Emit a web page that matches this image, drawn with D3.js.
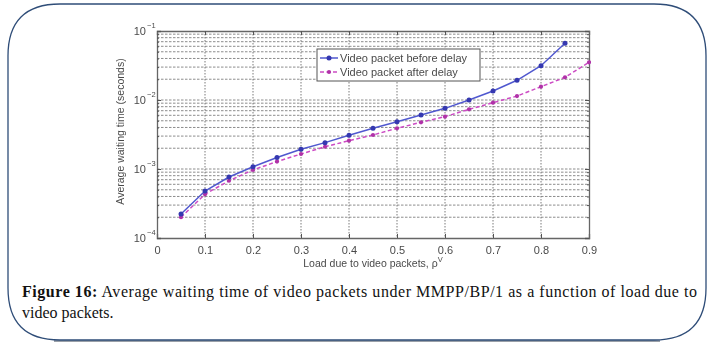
<!DOCTYPE html>
<html>
<head>
<meta charset="utf-8">
<script src="https://cdn.jsdelivr.net/npm/d3@7"></script>
<style>
  html, body { margin: 0; padding: 0; background: #fff; }
  svg { display: block; }
</style>
</head>
<body>
<svg id="fig" width="710" height="345"></svg>
<script>
// Load due to video packets (x) and average waiting times (seconds)
const loadBefore = [0.05, 0.10, 0.15, 0.20, 0.25, 0.30, 0.35, 0.40, 0.45, 0.50, 0.55, 0.60, 0.65, 0.70, 0.75, 0.80, 0.85];
const waitBefore = [2.23e-4, 4.8e-4, 7.65e-4, 1.08e-3, 1.47e-3, 1.93e-3, 2.41e-3, 3.08e-3, 3.89e-3, 4.85e-3, 6.07e-3, 7.57e-3, 1.0e-2, 1.35e-2, 1.93e-2, 3.14e-2, 6.64e-2];
const loadAfter = [0.05, 0.10, 0.15, 0.20, 0.25, 0.30, 0.35, 0.40, 0.45, 0.50, 0.55, 0.60, 0.65, 0.70, 0.75, 0.80, 0.85, 0.90];
const waitAfter = [2.0e-4, 4.3e-4, 6.76e-4, 9.7e-4, 1.28e-3, 1.65e-3, 2.10e-3, 2.57e-3, 3.11e-3, 3.89e-3, 4.75e-3, 5.74e-3, 7.33e-3, 9.14e-3, 1.14e-2, 1.56e-2, 2.13e-2, 3.52e-2];
const seriesNames = ["Video packet before delay", "Video packet after delay"];
const xTicks = [0, 0.1, 0.2, 0.3, 0.4, 0.5, 0.6, 0.7, 0.8, 0.9];
const yTickExponents = [-4, -3, -2, -1];
const captionBold = "Figure 16:";
const captionLine1 = " Average waiting time of video packets under MMPP/BP/1 as a function of load due to";
const captionLine2 = "video packets.";

const svg = d3.select("#fig");

// Rounded frame around figure and caption
const fx0 = 8, fy0 = 4, fx1 = 706, fy1 = 340, rad = 52;
const framePath = `M${fx0 + rad},${fy0} H${fx1 - rad} Q${fx1},${fy0} ${fx1},${fy0 + rad} V${fy1 - rad} Q${fx1},${fy1} ${fx1 - rad},${fy1} H${fx0 + rad} Q${fx0},${fy1} ${fx0},${fy1 - rad} V${fy0 + rad} Q${fx0},${fy0} ${fx0 + rad},${fy0} Z`;
svg.append("path").attr("d", `M${fx0 + rad - 6},${fy1 + 1} H${fx1 - rad + 6}`)
  .attr("stroke", "#9aa0a8").attr("stroke-width", 2.2).attr("fill", "none");
svg.append("path").attr("d", framePath)
  .attr("fill", "none").attr("stroke", "#2f4d78").attr("stroke-width", 1.3);

// Soft rendering for the plot itself
const defs = svg.append("defs");
defs.append("filter").attr("id", "soft").attr("x", "-5%").attr("y", "-5%").attr("width", "110%").attr("height", "110%")
  .append("feGaussianBlur").attr("stdDeviation", 0.6);
defs.append("clipPath").attr("id", "plotClip")
  .append("rect").attr("x", 157).attr("y", 29).attr("width", 434).attr("height", 211);

const pL = 157, pR = 589, pT = 31, pB = 238;
const x = d3.scaleLinear().domain([0, 0.9]).range([pL, pR]);
const y = d3.scaleLog().domain([1e-4, 1e-1]).range([pB, pT]);

const g = svg.append("g").attr("filter", "url(#soft)");

// Horizontal grid at every decade sub-division
const minorY = [];
for (let e = -4; e <= -2; e++) {
  for (let k = 1; k <= 9; k++) {
    const v = k * Math.pow(10, e);
    if (v > 1.0001e-4 && v < 0.9999e-1) minorY.push(v);
  }
}
g.append("g").selectAll("line").data(minorY).join("line")
  .attr("x1", pL).attr("x2", pR)
  .attr("y1", d => y(d)).attr("y2", d => y(d))
  .attr("stroke", "#8c8c8c").attr("stroke-width", 1).attr("stroke-dasharray", "2.5,1.5");

// Vertical grid at major x ticks
g.append("g").selectAll("line").data(xTicks.slice(1, -1)).join("line")
  .attr("x1", d => x(d)).attr("x2", d => x(d))
  .attr("y1", pT).attr("y2", pB)
  .attr("stroke", "#7a7a7a").attr("stroke-width", 1).attr("stroke-dasharray", "1.5,1.5");

// Axes with inward ticks
const xAxis = d3.axisBottom(x).tickValues(xTicks).tickSize(-4).tickPadding(8).tickFormat(d3.format("~g"));
const xAxisTop = d3.axisTop(x).tickValues(xTicks).tickSize(-4).tickFormat("");
const yVals = yTickExponents.map(e => Math.pow(10, e));
const yAxis = d3.axisLeft(y).tickValues(yVals).tickSize(-4).tickFormat("");
const yAxisRight = d3.axisRight(y).tickValues(yVals).tickSize(-4).tickFormat("");
const yMinorL = d3.axisLeft(y).tickValues(minorY).tickSize(-2).tickFormat("");
const yMinorR = d3.axisRight(y).tickValues(minorY).tickSize(-2).tickFormat("");

function styleAxis(sel) {
  sel.select(".domain").attr("stroke", "#666").attr("stroke-width", 1.3);
  sel.selectAll(".tick line").attr("stroke", "#555");
  sel.selectAll(".tick text").attr("fill", "#4a4a4a")
    .style("font-family", "'Liberation Sans', Arial, sans-serif").style("font-size", "11px");
}
g.append("g").attr("transform", `translate(0,${pB})`).call(xAxis).call(styleAxis);
g.append("g").attr("transform", `translate(0,${pT})`).call(xAxisTop).call(styleAxis);
g.append("g").attr("transform", `translate(${pL},0)`).call(yAxis).call(styleAxis);
g.append("g").attr("transform", `translate(${pR},0)`).call(yAxisRight).call(styleAxis);
g.append("g").attr("transform", `translate(${pL},0)`).call(yMinorL).call(styleAxis).select(".domain").remove();
g.append("g").attr("transform", `translate(${pR},0)`).call(yMinorR).call(styleAxis).select(".domain").remove();

// Power-of-ten tick labels
const yLab = g.append("g").style("font-family", "'Liberation Sans', Arial, sans-serif").attr("fill", "#4a4a4a");
yTickExponents.forEach(e => {
  yLab.append("text").attr("x", 146).attr("y", y(Math.pow(10, e)) + 4)
    .attr("text-anchor", "end").style("font-size", "11px").text("10");
  yLab.append("text").attr("x", 147).attr("y", y(Math.pow(10, e)) - 3)
    .style("font-size", "7.5px").text(String(e).replace("-", "\u2212"));
});

// Axis titles
g.append("text")
  .attr("transform", `translate(124,${(pT + pB) / 2 - 3}) rotate(-90)`)
  .attr("text-anchor", "middle").attr("fill", "#4a4a4a")
  .style("font-family", "'Liberation Sans', Arial, sans-serif").style("font-size", "10.5px")
  .text("Average waiting time (seconds)");
const xt = g.append("text")
  .attr("x", (pL + pR) / 2).attr("y", 267).attr("text-anchor", "middle").attr("fill", "#4a4a4a")
  .style("font-family", "'Liberation Sans', Arial, sans-serif").style("font-size", "10.5px");
xt.append("tspan").text("Load due to video packets, \u03c1");
xt.append("tspan").attr("dy", -5).style("font-size", "7.5px").text("V");

// Series
const colBefore = "#5058cf", colAfter = "#cc4cc4";
const plot = g.append("g").attr("clip-path", "url(#plotClip)");
const line = d3.line().x(d => x(d[0])).y(d => y(d[1])).curve(d3.curveLinear);
const before = loadBefore.map((v, i) => [v, waitBefore[i]]);
const after = loadAfter.map((v, i) => [v, waitAfter[i]]);

plot.append("path").datum(after).attr("d", line)
  .attr("fill", "none").attr("stroke", colAfter).attr("stroke-width", 1.5).attr("stroke-dasharray", "4,2.5");
plot.append("g").selectAll("circle").data(after).join("circle")
  .attr("cx", d => x(d[0])).attr("cy", d => y(d[1])).attr("r", 2.1).attr("fill", "#b030a8");

plot.append("path").datum(before).attr("d", line)
  .attr("fill", "none").attr("stroke", colBefore).attr("stroke-width", 1.5);
plot.append("g").selectAll("circle").data(before).join("circle")
  .attr("cx", d => x(d[0])).attr("cy", d => y(d[1])).attr("r", 2.5).attr("fill", "#3438b0");

// Legend
const lg = g.append("g");
lg.append("rect").attr("x", 317).attr("y", 49).attr("width", 163).attr("height", 32)
  .attr("fill", "#fff").attr("stroke", "#555").attr("stroke-width", 1);
const legendItems = [
  { name: seriesNames[0], color: colBefore, dot: "#3438b0", dash: null, r: 2.5 },
  { name: seriesNames[1], color: colAfter, dot: "#b030a8", dash: "4,2.5", r: 2.1 }
];
legendItems.forEach((it, i) => {
  const cy = 58 + i * 14;
  lg.append("line").attr("x1", 320).attr("x2", 338).attr("y1", cy).attr("y2", cy)
    .attr("stroke", it.color).attr("stroke-width", 1.5).attr("stroke-dasharray", it.dash);
  lg.append("circle").attr("cx", 329).attr("cy", cy).attr("r", it.r).attr("fill", it.dot);
  lg.append("text").attr("x", 340).attr("y", cy + 4).attr("fill", "#4a4a4a")
    .style("font-family", "'Liberation Sans', Arial, sans-serif").style("font-size", "11px")
    .text(it.name);
});

// Caption
const cap = svg.append("g").style("font-family", "'Liberation Serif', 'Times New Roman', serif")
  .style("font-size", "16px").attr("fill", "#111");
const c1 = cap.append("text").attr("x", 22).attr("y", 297).attr("textLength", 675).attr("lengthAdjust", "spacing");
c1.append("tspan").style("font-weight", "bold").text(captionBold);
c1.append("tspan").text(captionLine1);
cap.append("text").attr("x", 22).attr("y", 318).text(captionLine2);
</script>
</body>
</html>
